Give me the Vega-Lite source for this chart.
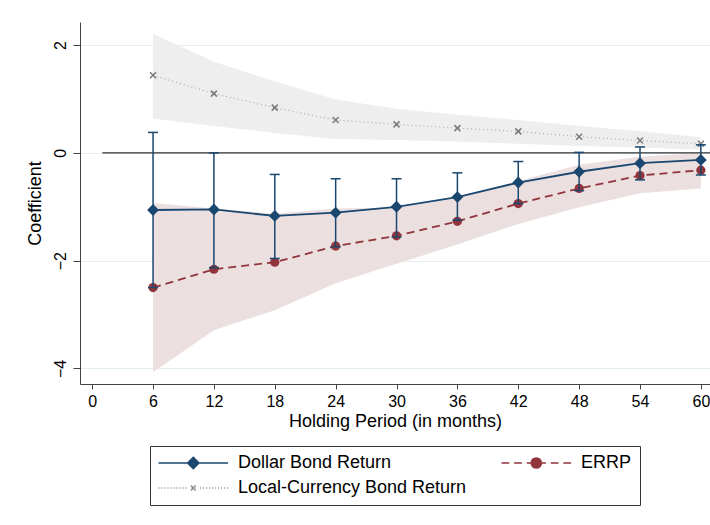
{
  "$schema": "https://vega.github.io/schema/vega-lite/v6.json",
  "width": 630,
  "height": 362,
  "autosize": {"type": "none"},
  "padding": {"left": 80, "top": 22, "right": 0, "bottom": 141},
  "background": "white",
  "config": {
    "font": "Liberation Sans",
    "view": {"stroke": null},
    "axis": {
      "labelFont": "Liberation Sans",
      "titleFont": "Liberation Sans",
      "labelColor": "#000",
      "titleColor": "#000",
      "titleFontWeight": "normal",
      "domainColor": "#444",
      "tickColor": "#444",
      "labelFontSize": 16,
      "titleFontSize": 18
    },
    "axisY": {
      "grid": true,
      "gridColor": "#e3eef0",
      "gridWidth": 1,
      "labelAngle": -90,
      "tickCount": 4,
      "tickSize": 7,
      "labelPadding": 5,
      "titlePadding": 8
    },
    "axisX": {"grid": false, "tickSize": 5, "labelPadding": 4, "titlePadding": 3}
  },
  "datasets": {
    "est": [
      {"month": 6, "series": "Dollar Bond Return", "est": -1.06, "lo": -2.5, "hi": 0.38},
      {"month": 12, "series": "Dollar Bond Return", "est": -1.05, "lo": -2.13, "hi": 0.0},
      {"month": 18, "series": "Dollar Bond Return", "est": -1.17, "lo": -1.96, "hi": -0.4},
      {"month": 24, "series": "Dollar Bond Return", "est": -1.11, "lo": -1.74, "hi": -0.48},
      {"month": 30, "series": "Dollar Bond Return", "est": -1.0, "lo": -1.56, "hi": -0.48},
      {"month": 36, "series": "Dollar Bond Return", "est": -0.82, "lo": -1.25, "hi": -0.37},
      {"month": 42, "series": "Dollar Bond Return", "est": -0.55, "lo": -0.94, "hi": -0.16},
      {"month": 48, "series": "Dollar Bond Return", "est": -0.35, "lo": -0.7, "hi": 0.01},
      {"month": 54, "series": "Dollar Bond Return", "est": -0.19, "lo": -0.5, "hi": 0.11},
      {"month": 60, "series": "Dollar Bond Return", "est": -0.13, "lo": -0.41, "hi": 0.15},
      {"month": 6, "series": "ERRP", "est": -2.5, "lo": -4.07, "hi": -0.93},
      {"month": 12, "series": "ERRP", "est": -2.16, "lo": -3.29, "hi": -1.03},
      {"month": 18, "series": "ERRP", "est": -2.03, "lo": -2.92, "hi": -1.13},
      {"month": 24, "series": "ERRP", "est": -1.73, "lo": -2.42, "hi": -1.03},
      {"month": 30, "series": "ERRP", "est": -1.54, "lo": -2.06, "hi": -1.02},
      {"month": 36, "series": "ERRP", "est": -1.27, "lo": -1.7, "hi": -0.84},
      {"month": 42, "series": "ERRP", "est": -0.94, "lo": -1.32, "hi": -0.52},
      {"month": 48, "series": "ERRP", "est": -0.66, "lo": -1.01, "hi": -0.22},
      {"month": 54, "series": "ERRP", "est": -0.42, "lo": -0.75, "hi": -0.07},
      {"month": 60, "series": "ERRP", "est": -0.32, "lo": -0.66, "hi": 0.0},
      {"month": 6, "series": "Local-Currency Bond Return", "est": 1.44, "lo": 0.64, "hi": 2.21},
      {"month": 12, "series": "Local-Currency Bond Return", "est": 1.1, "lo": 0.5, "hi": 1.69},
      {"month": 18, "series": "Local-Currency Bond Return", "est": 0.84, "lo": 0.37, "hi": 1.33},
      {"month": 24, "series": "Local-Currency Bond Return", "est": 0.61, "lo": 0.26, "hi": 0.99},
      {"month": 30, "series": "Local-Currency Bond Return", "est": 0.53, "lo": 0.24, "hi": 0.82},
      {"month": 36, "series": "Local-Currency Bond Return", "est": 0.46, "lo": 0.21, "hi": 0.71},
      {"month": 42, "series": "Local-Currency Bond Return", "est": 0.4, "lo": 0.17, "hi": 0.61},
      {"month": 48, "series": "Local-Currency Bond Return", "est": 0.3, "lo": 0.13, "hi": 0.5},
      {"month": 54, "series": "Local-Currency Bond Return", "est": 0.23, "lo": 0.1, "hi": 0.4},
      {"month": 60, "series": "Local-Currency Bond Return", "est": 0.17, "lo": 0.06, "hi": 0.29}
    ],
    "zeroline": [{"month": 1, "to": 60.9, "est": 0}]
  },
  "data": {"name": "est"},
  "encoding": {
    "x": {
      "field": "month",
      "type": "quantitative",
      "title": "Holding Period (in months)",
      "scale": {"domain": [-1.2, 60.9], "nice": false, "zero": false},
      "axis": {"values": [0, 6, 12, 18, 24, 30, 36, 42, 48, 54, 60]}
    }
  },
  "layer": [
    {
      "transform": [{"filter": "datum.series === 'Local-Currency Bond Return'"}],
      "mark": {"type": "area", "color": "#eeeeee", "opacity": 1},
      "encoding": {
        "y": {"field": "lo", "type": "quantitative", "title": "Coefficient", "scale": {"domain": [-4.29, 2.43], "nice": false, "zero": false}},
        "y2": {"field": "hi"}
      }
    },
    {
      "transform": [{"filter": "datum.series === 'ERRP'"}],
      "mark": {"type": "area", "color": "#ecdfe0", "opacity": 1},
      "encoding": {
        "y": {"field": "lo", "type": "quantitative", "title": "Coefficient", "scale": {"domain": [-4.29, 2.43], "nice": false, "zero": false}},
        "y2": {"field": "hi"}
      }
    },
    {
      "data": {"name": "zeroline"},
      "mark": {"type": "rule", "color": "#000", "strokeWidth": 1},
      "encoding": {
        "x2": {"field": "to"},
        "y": {"field": "est", "type": "quantitative", "title": "Coefficient", "scale": {"domain": [-4.29, 2.43], "nice": false, "zero": false}}
      }
    },
    {
      "transform": [{"filter": "datum.series === 'Local-Currency Bond Return'"}],
      "mark": {"type": "line", "color": "#a9a9a9", "strokeWidth": 1.2, "strokeDash": [1, 3]},
      "encoding": {
        "y": {"field": "est", "type": "quantitative", "title": "Coefficient", "scale": {"domain": [-4.29, 2.43], "nice": false, "zero": false}}
      }
    },
    {
      "transform": [{"filter": "datum.series === 'Local-Currency Bond Return'"}],
      "mark": {"type": "point", "shape": "M-1,-1L1,1M-1,1L1,-1", "size": 36, "filled": false, "stroke": "#7a7a7a", "strokeWidth": 1.5, "opacity": 1},
      "encoding": {
        "y": {"field": "est", "type": "quantitative", "title": "Coefficient", "scale": {"domain": [-4.29, 2.43], "nice": false, "zero": false}}
      }
    },
    {
      "transform": [{"filter": "datum.series === 'ERRP'"}],
      "mark": {"type": "line", "color": "#90353b", "strokeWidth": 1.8, "strokeDash": [8, 5]},
      "encoding": {
        "y": {"field": "est", "type": "quantitative", "title": "Coefficient", "scale": {"domain": [-4.29, 2.43], "nice": false, "zero": false}}
      }
    },
    {
      "transform": [{"filter": "datum.series === 'ERRP'"}],
      "mark": {"type": "point", "shape": "circle", "size": 85, "filled": true, "color": "#90353b", "opacity": 1},
      "encoding": {
        "y": {"field": "est", "type": "quantitative", "title": "Coefficient", "scale": {"domain": [-4.29, 2.43], "nice": false, "zero": false}}
      }
    },
    {
      "transform": [{"filter": "datum.series === 'Dollar Bond Return'"}],
      "mark": {"type": "rule", "color": "#1a476f", "strokeWidth": 1.5},
      "encoding": {
        "y": {"field": "lo", "type": "quantitative", "title": "Coefficient", "scale": {"domain": [-4.29, 2.43], "nice": false, "zero": false}},
        "y2": {"field": "hi"}
      }
    },
    {
      "transform": [{"filter": "datum.series === 'Dollar Bond Return'"}],
      "mark": {"type": "tick", "orient": "horizontal", "color": "#1a476f", "size": 10, "thickness": 1.5, "opacity": 1},
      "encoding": {
        "y": {"field": "lo", "type": "quantitative", "title": "Coefficient", "scale": {"domain": [-4.29, 2.43], "nice": false, "zero": false}}
      }
    },
    {
      "transform": [{"filter": "datum.series === 'Dollar Bond Return'"}],
      "mark": {"type": "tick", "orient": "horizontal", "color": "#1a476f", "size": 10, "thickness": 1.5, "opacity": 1},
      "encoding": {
        "y": {"field": "hi", "type": "quantitative", "title": "Coefficient", "scale": {"domain": [-4.29, 2.43], "nice": false, "zero": false}}
      }
    },
    {
      "transform": [{"filter": "datum.series === 'Dollar Bond Return'"}],
      "mark": {"type": "line", "color": "#1a476f", "strokeWidth": 1.8},
      "encoding": {
        "y": {"field": "est", "type": "quantitative", "title": "Coefficient", "scale": {"domain": [-4.29, 2.43], "nice": false, "zero": false}}
      }
    },
    {
      "transform": [{"filter": "datum.series === 'Dollar Bond Return'"}],
      "mark": {"type": "point", "shape": "diamond", "size": 140, "filled": true, "color": "#1a476f", "opacity": 1},
      "encoding": {
        "y": {"field": "est", "type": "quantitative", "title": "Coefficient", "scale": {"domain": [-4.29, 2.43], "nice": false, "zero": false}}
      }
    },
    {
      "transform": [{"filter": "false"}],
      "mark": {"type": "point", "filled": false, "strokeWidth": 1.5, "size": 144},
      "encoding": {
        "y": {"field": "est", "type": "quantitative", "title": "Coefficient", "scale": {"domain": [-4.29, 2.43], "nice": false, "zero": false}},
        "color": {
          "field": "series",
          "type": "nominal",
          "title": null,
          "scale": {
            "domain": ["Dollar Bond Return", "ERRP", "Local-Currency Bond Return"],
            "range": ["#1a476f", "#90353b", "#8f8f8f"]
          },
          "legend": {
            "orient": "none",
            "legendX": 70,
            "legendY": 424,
            "direction": "horizontal",
            "columns": 2,
            "title": null,
            "strokeColor": "#333",
            "fillColor": "white",
            "padding": 8,
            "columnPadding": 31,
            "rowPadding": 7,
            "labelFont": "Liberation Sans",
            "labelFontSize": 18,
            "labelColor": "#000",
            "labelLimit": 400,
            "symbolSize": 144,
            "symbolOffset": -8.5,
            "labelOffset": 70.5,
            "symbolStrokeWidth": 1.5,
            "symbolOpacity": 1
          }
        },
        "shape": {
          "field": "series",
          "type": "nominal",
          "title": null,
          "scale": {
            "domain": ["Dollar Bond Return", "ERRP", "Local-Currency Bond Return"],
            "range": [
              "M0,0H11.6M5.8,-0.95L6.75,0L5.8,0.95L4.85,0ZM5.8,-0.65L6.45,0L5.8,0.65L5.15,0ZM5.8,-0.35L6.15,0L5.8,0.35L5.45,0Z",
              "M0,0H1.3M2.1,0H3.4M4.2,0H7.4M8.2,0H9.5M10.3,0H11.6M6.65,0A0.85,0.85,0,1,1,4.95,0A0.85,0.85,0,1,1,6.65,0ZM6.4,0A0.6,0.6,0,1,1,5.2,0A0.6,0.6,0,1,1,6.4,0ZM6.15,0A0.35,0.35,0,1,1,5.45,0A0.35,0.35,0,1,1,6.15,0ZM5.92,0A0.12,0.12,0,1,1,5.68,0A0.12,0.12,0,1,1,5.92,0Z",
              "M0,0h0.17M0.5,0h0.17M1,0h0.17M1.5,0h0.17M2,0h0.17M2.5,0h0.17M3,0h0.17M3.5,0h0.17M4,0h0.17M4.5,0h0.17M6.93,0h0.17M7.43,0h0.17M7.93,0h0.17M8.43,0h0.17M8.93,0h0.17M9.43,0h0.17M9.93,0h0.17M10.43,0h0.17M10.93,0h0.17M11.43,0h0.17M5.4,-0.4L6.2,0.4M5.4,0.4L6.2,-0.4"
            ]
          },
          "legend": {"title": null}
        }
      }
    }
  ]
}
